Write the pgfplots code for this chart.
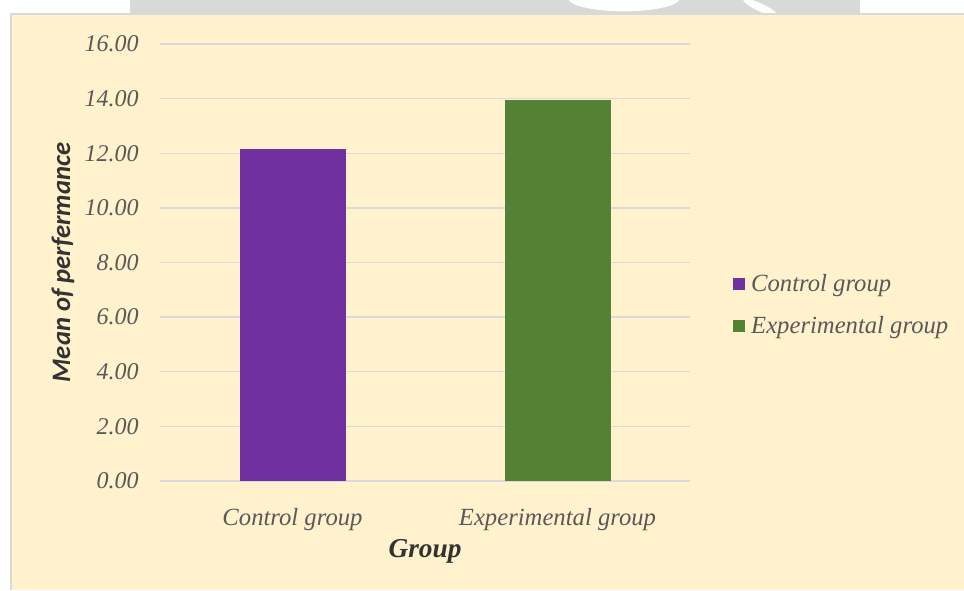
\documentclass[border=0pt]{standalone}
\usepackage{pgfplots}
\pgfplotsset{compat=1.18}
\usepackage{fontspec}
\setmainfont{Liberation Serif}
\newfontfamily\carlito{Carlito}
\definecolor{cream}{HTML}{FFF2CC}
\definecolor{gridgray}{HTML}{D9D9D9}
\definecolor{ticktext}{HTML}{595959}
\definecolor{titletext}{HTML}{333333}
\definecolor{cpurple}{HTML}{7030A0}
\definecolor{cgreen}{HTML}{548235}
\begin{document}
\begin{tikzpicture}
\useasboundingbox (0,0) rectangle (723pt,442.5pt);
\begin{scope}
\clip (0,0) rectangle (723pt,442.5pt);
\fill[white] (0,0) rectangle (723pt,442.5pt);
\fill[gridgray] (97.5pt,432pt) rectangle (645pt,442.5pt);
\fill[white] (468pt,444pt) ellipse (42pt and 10pt);
\fill[white, rotate around={-25:(570pt,437pt)}] (570pt,437pt) ellipse (14pt and 3pt);
\fill[cream] (8.25pt,0) rectangle (723pt,432pt);
\draw[gridgray, line width=1.2pt] (8.25pt,0) -- (8.25pt,432pt) -- (723pt,432pt);
\end{scope}
\begin{axis}[
  at={(120pt,81.75pt)}, anchor=south west,
  scale only axis,
  width=397.5pt, height=327.75pt,
  xmin=-0.5, xmax=1.5,
  ymin=0, ymax=16,
  ytick={0,2,...,16},
  xtick={0,1},
  xticklabels={Control group, Experimental group},
  axis line style={draw=none},
  tick style={draw=none},
  ymajorgrids,
  grid style={gridgray, line width=1.1pt},
  ybar, bar width=0.4,
  /pgf/number format/.cd, fixed, fixed zerofill, precision=2, assume math mode=true,
  /pgfplots/.cd,
  yticklabel style={anchor=east, inner sep=0pt, xshift=-15.75pt, font=\fontsize{18}{21}\selectfont\itshape, text=ticktext},
  xticklabel style={anchor=base, inner sep=0pt, yshift=-29.25pt, font=\fontsize{18.5}{21}\selectfont\itshape, text=ticktext},
  xlabel={Group},
  xlabel style={at={(axis description cs:0.5,-0.1762)}, anchor=base, inner sep=0pt, font=\fontsize{20.5}{24}\selectfont\bfseries\itshape, text=titletext},
  ylabel={Mean of perfermance},
  ylabel style={at={(axis description cs:-0.1698,0.5)}, anchor=base, rotate=0, inner sep=0pt, font=\fontsize{20}{24}\selectfont\carlito\bfseries\itshape, text=titletext},
  legend style={at={(axis description cs:1.081,0.4027)}, anchor=west, draw=none, fill=none, inner sep=0pt,
    font=\fontsize{18.5}{21}\selectfont\itshape, text=ticktext, row sep=17pt, column sep=4.5pt,
    nodes={inner sep=0pt}},
  legend cell align=left,
  legend image code/.code={\fill[#1] (0pt,-4.5pt) rectangle (9pt,4.5pt);},
]
\addplot[fill=cpurple, draw=none, bar shift=0pt] coordinates {(0,12.17)};
\addlegendentry{Control group}
\addplot[fill=cgreen, draw=none, bar shift=0pt] coordinates {(1,13.96)};
\addlegendentry{Experimental group}
\end{axis}
\end{tikzpicture}
\end{document}
